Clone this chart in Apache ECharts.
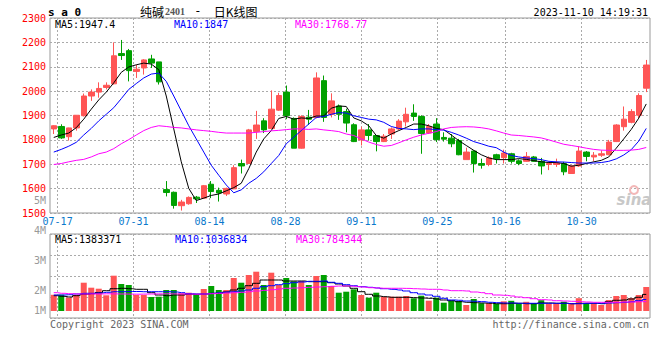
<!DOCTYPE html>
<html><head><meta charset="utf-8">
<script src="https://cdn.jsdelivr.net/npm/echarts@6/dist/echarts.min.js"></script>
<style>html,body{margin:0;padding:0;background:#fff}#c{width:660px;height:360px}</style>
</head><body><div id="c"></div>
<script>
// ---------- data ----------
const dates = ['07-14','07-17','07-18','07-19','07-20','07-21','07-24','07-25','07-26','07-27','07-28',
'07-31','08-01','08-02','08-03','08-04','08-07','08-08','08-09','08-10','08-11',
'08-14','08-15','08-16','08-17','08-18','08-21','08-22','08-23','08-24','08-25',
'08-28','08-29','08-30','08-31','09-01','09-04','09-05','09-06','09-07','09-08',
'09-11','09-12','09-13','09-14','09-15','09-18','09-19','09-20','09-21','09-22',
'09-25','09-26','09-27','09-28','10-09','10-10','10-11','10-12','10-13',
'10-16','10-17','10-18','10-19','10-20','10-23','10-24','10-25','10-26','10-27',
'10-30','10-31','11-01','11-02','11-03','11-06','11-07','11-08','11-09','11-10'];
const openP  = [1845,1855,1813,1849,1899,1980,1996,2015,2030,2154,2166,2081,2095,2132,2120,1596,1585,1530,1538,1565,
1561,1618,1593,1578,1599,1703,1703,1834,1878,1847,1922,1996,1888,1766,1893,1892,2043,1905,1939,1916,
1862,1800,1841,1818,1793,1824,1845,1874,1910,1896,1828,1865,1810,1807,1797,1719,1754,1703,1699,1739,
1727,1743,1714,1712,1730,1712,1699,1699,1703,1662,1693,1750,1730,1737,1739,1793,1854,1872,1901,2012];
const closeP = [1858,1808,1849,1901,1980,1996,2011,2024,2145,2146,2084,2090,2128,2115,2038,1584,1531,1545,1564,1558,
1612,1588,1582,1601,1686,1693,1841,1861,1841,1926,1982,1899,1766,1896,1885,2054,1892,1960,1905,1869,
1793,1841,1818,1793,1815,1845,1877,1905,1896,1826,1855,1801,1803,1784,1739,1750,1703,1696,1726,1723,
1746,1712,1703,1732,1712,1693,1703,1705,1669,1693,1754,1732,1737,1743,1791,1861,1885,1916,1982,2107];
const lowP   = [1824,1804,1797,1838,1896,1960,1973,2007,2027,2128,2040,2054,2068,2095,2027,1568,1518,1510,1534,1541,
1558,1561,1547,1570,1598,1662,1703,1804,1828,1845,1919,1885,1766,1764,1861,1888,1874,1892,1882,1831,
1791,1777,1797,1753,1791,1804,1840,1855,1878,1743,1824,1791,1793,1770,1737,1719,1666,1682,1692,1703,
1703,1703,1696,1710,1710,1658,1676,1689,1655,1660,1689,1712,1712,1730,1737,1791,1838,1868,1888,1996];
const highP  = [1860,1864,1850,1902,1990,2007,2036,2036,2200,2210,2173,2108,2131,2149,2120,1631,1588,1554,1568,1570,
1615,1631,1604,1604,1696,1719,1845,1919,1889,2003,1993,2023,1892,1901,1923,2077,2064,1991,1945,1928,
1868,1854,1865,1820,1824,1851,1885,1932,1946,1901,1865,1889,1831,1824,1804,1768,1757,1723,1732,1743,
1760,1747,1720,1750,1734,1726,1712,1723,1710,1696,1774,1754,1750,1757,1800,1864,1937,1926,1991,2128];
const ma5  = [1810,1820,1828,1850,1885,1926,1964,1996,2034,2077,2099,2108,2115,2111,2088,1980,1845,1710,1601,1551,
1561,1572,1578,1591,1604,1622,1682,1750,1804,1838,1888,1896,1885,1890,1888,1898,1898,1930,1939,1937,
1890,1878,1858,1818,1807,1824,1838,1851,1865,1865,1858,1847,1842,1820,1797,1777,1757,1739,1726,1719,
1719,1719,1723,1720,1715,1710,1707,1707,1703,1692,1696,1703,1710,1716,1730,1766,1804,1843,1889,1947.4];
const ma10 = [1750,1761,1774,1790,1820,1847,1878,1905,1932,1969,2007,2031,2054,2070,2074,2040,1980,1919,1858,1804,
1750,1696,1655,1615,1583,1595,1622,1642,1669,1703,1736,1784,1811,1838,1865,1892,1896,1905,1912,1910,
1899,1892,1885,1882,1872,1855,1847,1845,1842,1845,1845,1842,1840,1831,1820,1807,1793,1784,1774,1768,
1750,1736,1730,1726,1723,1719,1712,1710,1709,1707,1705,1705,1705,1707,1712,1722,1738,1760,1795,1847];
const ma30 = [1699,1703,1710,1716,1720,1730,1743,1750,1764,1784,1801,1820,1838,1851,1858,1855,1851,1849,1845,1841,
1838,1835,1831,1828,1828,1828,1828,1831,1834,1837,1839,1842,1845,1845,1843,1845,1841,1838,1834,1824,
1818,1804,1791,1781,1774,1777,1788,1800,1811,1820,1827,1834,1845,1851,1853,1854,1853,1850,1845,1837,
1828,1820,1818,1815,1812,1808,1800,1791,1782,1777,1772,1766,1761,1758,1757,1757,1757,1758,1761,1768.77];
// volume, in millions of lots
const volumeM = [1.350,1.358,1.108,1.333,2.358,1.942,1.858,1.308,2.942,2.250,2.167,1.333,1.333,1.167,1.192,1.750,1.750,1.475,1.525,1.392,
1.833,2.083,1.750,1.750,2.750,2.358,3.000,3.275,2.167,3.192,2.167,2.750,2.475,2.500,2.167,2.917,3.000,2.083,1.525,1.608,
1.808,1.333,1.108,1.525,1.192,1.192,1.192,1.250,1.058,1.275,0.858,1.108,0.692,0.875,0.833,0.500,1.000,0.650,0.650,0.600,
0.808,0.850,0.625,0.767,0.650,0.900,0.625,0.625,0.775,0.625,1.067,0.650,0.625,0.500,0.917,1.250,1.333,1.083,1.333,2.000];
const volMa5 = [1.275,1.225,1.167,1.275,1.392,1.442,1.525,1.692,1.858,1.892,1.858,1.808,1.808,1.525,1.333,1.275,1.333,1.333,1.392,1.392,
1.417,1.475,1.475,1.583,1.750,1.892,2.108,2.308,2.583,2.583,2.583,2.500,2.500,2.500,2.442,2.442,2.442,2.358,2.250,2.083,
1.892,1.608,1.392,1.250,1.192,1.142,1.142,1.142,1.108,1.083,1.058,1.000,0.917,0.858,0.775,0.725,0.692,0.667,0.642,0.608,
0.608,0.642,0.642,0.608,0.608,0.667,0.667,0.642,0.642,0.608,0.642,0.642,0.642,0.608,0.775,0.892,0.917,1.000,1.142,1.383];
const volMa10 = [1.333,1.333,1.358,1.417,1.475,1.475,1.500,1.558,1.608,1.608,1.625,1.625,1.608,1.608,1.608,1.608,1.583,1.525,1.442,1.417,
1.417,1.475,1.525,1.583,1.608,1.667,1.750,1.892,2.025,2.108,2.192,2.275,2.358,2.417,2.475,2.475,2.500,2.392,2.308,2.192,
2.108,2.025,1.975,1.917,1.858,1.808,1.750,1.667,1.525,1.417,1.333,1.225,1.058,0.917,0.892,0.833,0.808,0.775,0.725,0.692,
0.667,0.667,0.642,0.642,0.642,0.642,0.642,0.642,0.642,0.608,0.608,0.642,0.642,0.642,0.667,0.692,0.725,0.775,0.858,0.960];
const volMa30 = [1.525,1.475,1.442,1.417,1.408,1.425,1.417,1.433,1.425,1.417,1.408,1.400,1.408,1.417,1.425,1.433,1.425,1.417,1.408,1.400,
1.417,1.442,1.475,1.500,1.525,1.558,1.608,1.667,1.725,1.775,1.833,1.892,1.917,1.942,1.975,2.000,2.025,2.058,2.083,2.083,
2.058,2.000,1.942,1.917,1.892,1.892,1.892,1.883,1.858,1.833,1.808,1.808,1.750,1.692,1.692,1.667,1.583,1.525,1.442,1.333,
1.308,1.250,1.167,1.108,1.025,0.942,0.917,0.858,0.833,0.808,0.775,0.750,0.725,0.725,0.725,0.725,0.750,0.750,0.775,0.784];
const dateLabels = ['07-17','07-31','08-14','08-28','09-11','09-25','10-16','10-30'];
const volTickLabels = ['5M','4M','3M','2M','1M'];
const priceHeader = ['MA5:1947.4','MA10:1847','MA30:1768.77'];
const volHeader = ['MA5:1383371','MA10:1036834','MA30:784344'];
const symbolText = 's a 0';
const titleName = '纯碱', titleCode = '2401', titleSep = ' - ', titleSuffix = '日K线图';
const stamp = '2023-11-10 14:19:31';
const footerLeft = 'Copyright 2023 SINA.COM', footerRight = 'http://finance.sina.com.cn';
const watermark = 'sina';

// ---------- styles ----------
const UP = '#ff5555', DOWN = '#00a000';
const MA_COLORS = ['#000000', '#0000ff', '#ff00ff'];
const MONO = '"DejaVu Sans Mono", monospace';
const GRID_LINE = {show: true, lineStyle: {color: '#aaaaaa', type: [2, 2], width: 1}};
const labelSet = new Set(dateLabels);
const isLabelDate = (i, v) => labelSet.has(v !== undefined ? v : dates[i]);

const ohlc = dates.map((d, i) => [openP[i], closeP[i], lowP[i], highP[i]]);
const volItems = volumeM.map((v, i) => ({value: v, itemStyle: {color: closeP[i] >= openP[i] ? UP : DOWN}}));

const chart = echarts.init(document.getElementById('c'), null, {renderer: 'svg', width: 660, height: 360});

function maLine(name, data, color, xi, yi, step) {
  return {name, type: 'line', data, xAxisIndex: xi, yAxisIndex: yi, showSymbol: false, symbol: 'none',
    step: step || false, lineStyle: {color, width: 1}, itemStyle: {color}, silent: true, z: 3};
}
function txt(text, x, y, color, font, align) {
  return {type: 'text', x, y, silent: true, z: 10,
    style: {text, fill: color, font, textAlign: align || 'left', textVerticalAlign: 'middle'}};
}

const VOL_LABEL_Y = [200.7, 230.7, 260.7, 290.7, 310.7];
const HEADER_X = [55, 174, 295];

chart.setOption({
  animation: false,
  backgroundColor: '#ffffff',
  grid: [
    {left: 50, right: 10, top: 18, height: 195, show: true, borderColor: '#999999', borderWidth: 1, containLabel: false},
    {left: 50, right: 10, top: 234, height: 84, show: true, borderColor: '#999999', borderWidth: 1, containLabel: false}
  ],
  xAxis: [
    {type: 'category', gridIndex: 0, data: dates, boundaryGap: true, show: false},
    {type: 'category', gridIndex: 0, data: dates, boundaryGap: false, position: 'bottom',
      axisLine: {show: false}, axisTick: {show: false},
      axisLabel: {interval: isLabelDate, color: '#0a78cc', fontFamily: MONO, fontSize: 10, margin: 3},
      splitLine: Object.assign({interval: isLabelDate}, GRID_LINE)},
    {type: 'category', gridIndex: 1, data: dates, boundaryGap: true, show: false},
    {type: 'category', gridIndex: 1, data: dates, boundaryGap: false,
      axisLine: {show: false}, axisTick: {show: false}, axisLabel: {show: false},
      splitLine: Object.assign({interval: isLabelDate}, GRID_LINE)}
  ],
  yAxis: [
    {type: 'value', gridIndex: 0, min: 1500, max: 2300, interval: 100,
      axisLine: {show: false}, axisTick: {show: false},
      axisLabel: {color: '#ff0000', fontFamily: MONO, fontSize: 10, margin: 4, formatter: v => String(v)},
      splitLine: GRID_LINE},
    {type: 'value', gridIndex: 1, min: -0.58333, max: 6.41667, interval: 1.75,
      axisLine: {show: false}, axisTick: {show: false}, axisLabel: {show: false},
      splitLine: GRID_LINE}
  ],
  series: [
    {type: 'candlestick', xAxisIndex: 0, yAxisIndex: 0, data: ohlc, barWidth: 6, silent: true,
      itemStyle: {color: UP, color0: DOWN, borderColor: UP, borderColor0: DOWN, borderWidth: 1}, z: 2},
    maLine('MA5', ma5, MA_COLORS[0], 0, 0),
    maLine('MA10', ma10, MA_COLORS[1], 0, 0),
    maLine('MA30', ma30, MA_COLORS[2], 0, 0),
    {type: 'bar', xAxisIndex: 2, yAxisIndex: 1, data: volItems, barWidth: 6, silent: true, z: 2},
    maLine('VMA5', volMa5, MA_COLORS[0], 2, 1, 'middle'),
    maLine('VMA10', volMa10, MA_COLORS[1], 2, 1, 'middle'),
    maLine('VMA30', volMa30, MA_COLORS[2], 2, 1, 'middle')
  ],
  graphic: [
    txt(symbolText, 48, 12, '#000000', 'bold 11px ' + MONO),
    {type: 'text', x: 140, y: 11, silent: true, z: 10,
      style: {text: '{a|' + titleName + '}{b|' + titleCode + '}{c|' + titleSep + '}{a|' + titleSuffix + '}',
        textVerticalAlign: 'middle',
        rich: {a: {fill: '#000000', font: '12px "Noto Sans CJK SC"'},
               b: {fill: '#555555', font: 'bold 10px "Liberation Serif"', padding: [1, 0, 0, 1]},
               c: {fill: '#000000', font: '12px ' + MONO, padding: [0, 5, 0, 2]}}}},
    txt(stamp, 648, 12, '#000000', '10px ' + MONO, 'right'),
    ...priceHeader.map((t, i) => txt(t, HEADER_X[i], 24, MA_COLORS[i], '10px ' + MONO)),
    ...volHeader.map((t, i) => txt(t, HEADER_X[i] + (i ? 1 : 0), 239, MA_COLORS[i], '10px ' + MONO)),
    ...volTickLabels.map((t, i) => txt(t, 46, VOL_LABEL_Y[i], '#999999', '10px ' + MONO, 'right')),
    txt(footerLeft, 50, 324, '#666666', '10px ' + MONO),
    txt(footerRight, 649, 324, '#666666', '10px ' + MONO, 'right'),
    {type: 'circle', shape: {cx: 634, cy: 190, r: 4}, silent: true, z: 9,
      style: {fill: 'none', stroke: '#f3b8b8', lineWidth: 2}},
    txt(watermark, 634, 200, '#c8c8c8', 'italic bold 15px "DejaVu Sans"', 'center')
  ]
});
</script></body></html>
